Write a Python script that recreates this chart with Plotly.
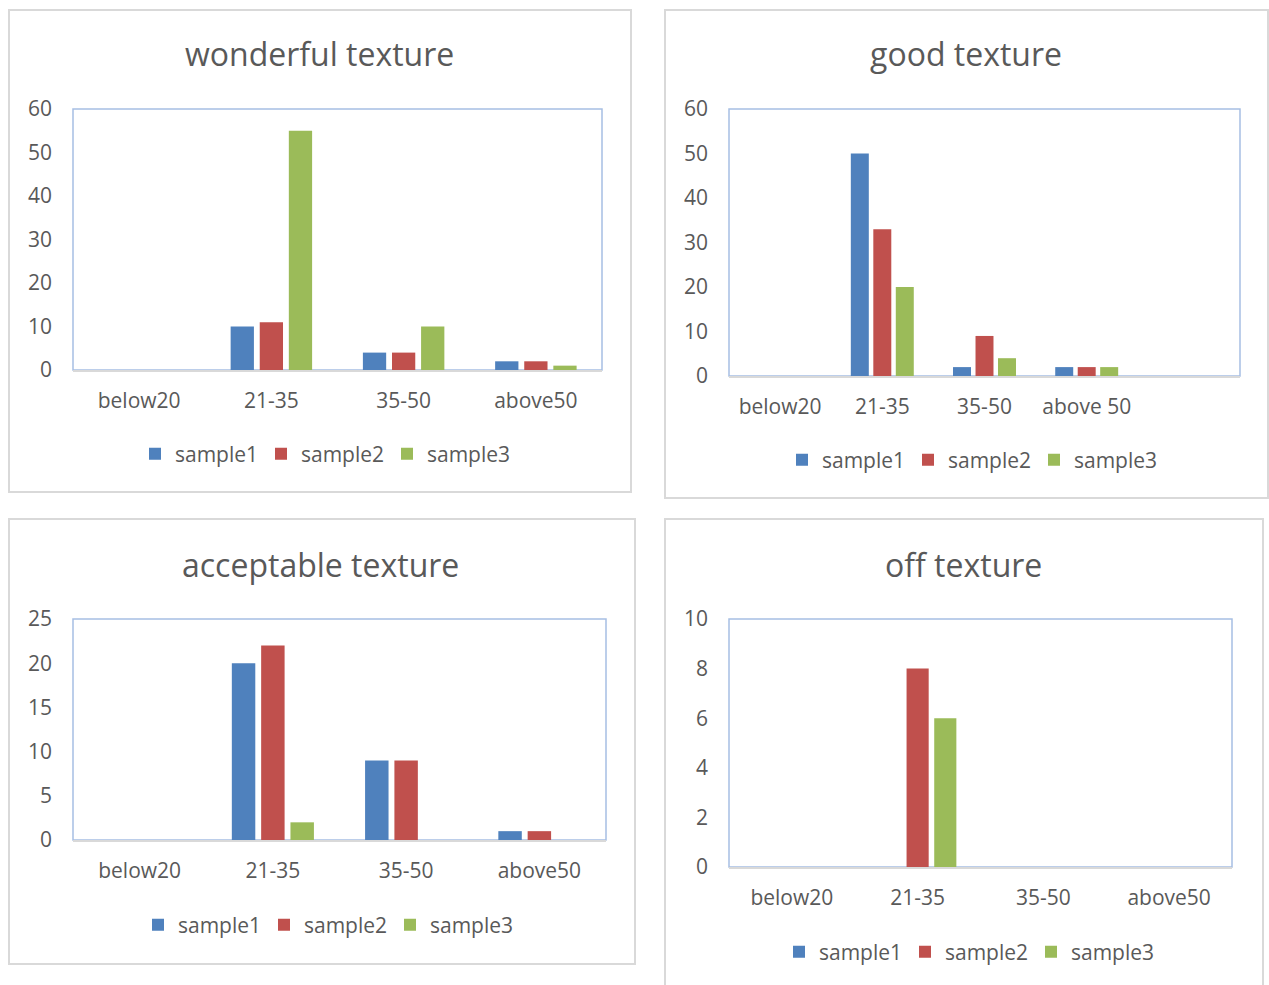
import plotly.graph_objects as go

W, H = 1269, 985

# ---- data ----
age_groups = ["below20", "21-35", "35-50", "above50"]
age_groups_good = ["below20", "21-35", "35-50", "above 50"]
series_names = ["sample1", "sample2", "sample3"]

wonderful_s1 = [0, 10, 4, 2]
wonderful_s2 = [0, 11, 4, 2]
wonderful_s3 = [0, 55, 10, 1]

good_s1 = [0, 50, 2, 2]
good_s2 = [0, 33, 9, 2]
good_s3 = [0, 20, 4, 2]

acceptable_s1 = [0, 20, 9, 1]
acceptable_s2 = [0, 22, 9, 1]
acceptable_s3 = [0, 2, 0, 0]

off_s1 = [0, 0, 0, 0]
off_s2 = [0, 8, 0, 0]
off_s3 = [0, 6, 0, 0]

COLORS = ["#4F81BD", "#C0504D", "#9BBB59"]
TEXT = "#595959"
FONT = "Open Sans"
TICK_SIZE = 21


def px(x):
    return x / W


def py(y):
    return 1 - y / H


# panel layout in pixels: outer box, plot box, title centre, legend centre
panels = [
    dict(title="wonderful texture", cats=age_groups, data=[wonderful_s1, wonderful_s2, wonderful_s3],
         box=(9, 10, 631, 492), plot=(73, 109, 602, 370), ymax=60, dtick=10, ncat=4,
         title_xy=(320, 54), legend_xy=(324, 454)),
    dict(title="good texture", cats=age_groups_good, data=[good_s1, good_s2, good_s3],
         box=(665, 10, 1268, 498), plot=(729, 109, 1240, 376), ymax=60, dtick=10, ncat=5,
         title_xy=(966, 54), legend_xy=(971, 460)),
    dict(title="acceptable texture", cats=age_groups, data=[acceptable_s1, acceptable_s2, acceptable_s3],
         box=(9, 519, 635, 964), plot=(73, 619, 606, 840), ymax=25, dtick=5, ncat=4,
         title_xy=(321, 564), legend_xy=(327, 925)),
    dict(title="off texture", cats=age_groups, data=[off_s1, off_s2, off_s3],
         box=(665, 519, 1263, 992), plot=(729, 619, 1232, 867), ymax=10, dtick=2, ncat=4,
         title_xy=(963, 564), legend_xy=(968, 952)),
]

fig = go.Figure()
layout = dict(
    width=W, height=H,
    margin=dict(l=0, r=0, t=0, b=0, autoexpand=False),
    paper_bgcolor="white", plot_bgcolor="white",
    bargap=0.34, bargroupgap=0.2, barmode="group",
    font=dict(family=FONT, color=TEXT, size=TICK_SIZE),
    shapes=[], annotations=[],
)

for i, p in enumerate(panels):
    n = "" if i == 0 else str(i + 1)
    xa, ya = "x" + n, "y" + n
    leg = "legend" + n
    for s, name in enumerate(series_names):
        fig.add_trace(go.Bar(
            x=p["cats"], y=p["data"][s], name=name,
            marker=dict(color=COLORS[s], line=dict(width=0)),
            xaxis=xa, yaxis=ya, legend=leg,
        ))
    x0, y0, x1, y1 = p["plot"]
    layout["xaxis" + n] = dict(
        domain=[px(x0), px(x1)], anchor=ya, type="category",
        range=[-0.5, p["ncat"] - 0.5], automargin=False,
        showline=True, linecolor="#D9D9D9", linewidth=1.5,
        showgrid=False, zeroline=False, ticks="",
        ticklabelstandoff=11, tickfont=dict(size=TICK_SIZE, color=TEXT),
        fixedrange=True,
    )
    layout["yaxis" + n] = dict(
        domain=[py(y1), py(y0)], anchor=xa,
        range=[0, p["ymax"]], dtick=p["dtick"], tick0=0, automargin=False,
        showline=False, showgrid=False, zeroline=False, ticks="",
        ticklabelstandoff=20, tickfont=dict(size=TICK_SIZE, color=TEXT),
        fixedrange=True,
    )
    # plot-area frame
    layout["shapes"].append(dict(
        type="rect", xref=xa + " domain", yref=ya + " domain",
        x0=0, x1=1, y0=0, y1=1, layer="below",
        line=dict(color="#A7BFE3", width=1.5),
    ))
    # chart-area frame
    bx0, by0, bx1, by1 = p["box"]
    layout["shapes"].append(dict(
        type="rect", xref="paper", yref="paper",
        x0=px(bx0), x1=px(bx1), y0=py(by1), y1=py(by0),
        line=dict(color="#D9D9D9", width=2),
    ))
    tx, ty = p["title_xy"]
    layout["annotations"].append(dict(
        text=p["title"], xref="paper", yref="paper",
        x=px(tx), y=py(ty), xanchor="center", yanchor="middle",
        showarrow=False, font=dict(size=32, color=TEXT, family=FONT),
    ))
    lx, ly = p["legend_xy"]
    layout[leg] = dict(
        orientation="h", x=px(lx), y=py(ly), xanchor="center", yanchor="middle",
        font=dict(size=TICK_SIZE, color=TEXT), itemwidth=30, entrywidth=81,
        bgcolor="rgba(0,0,0,0)", itemclick=False, itemdoubleclick=False,
    )

fig.update_layout(**layout)
fig.write_html("out.html", config={"displayModeBar": False})
